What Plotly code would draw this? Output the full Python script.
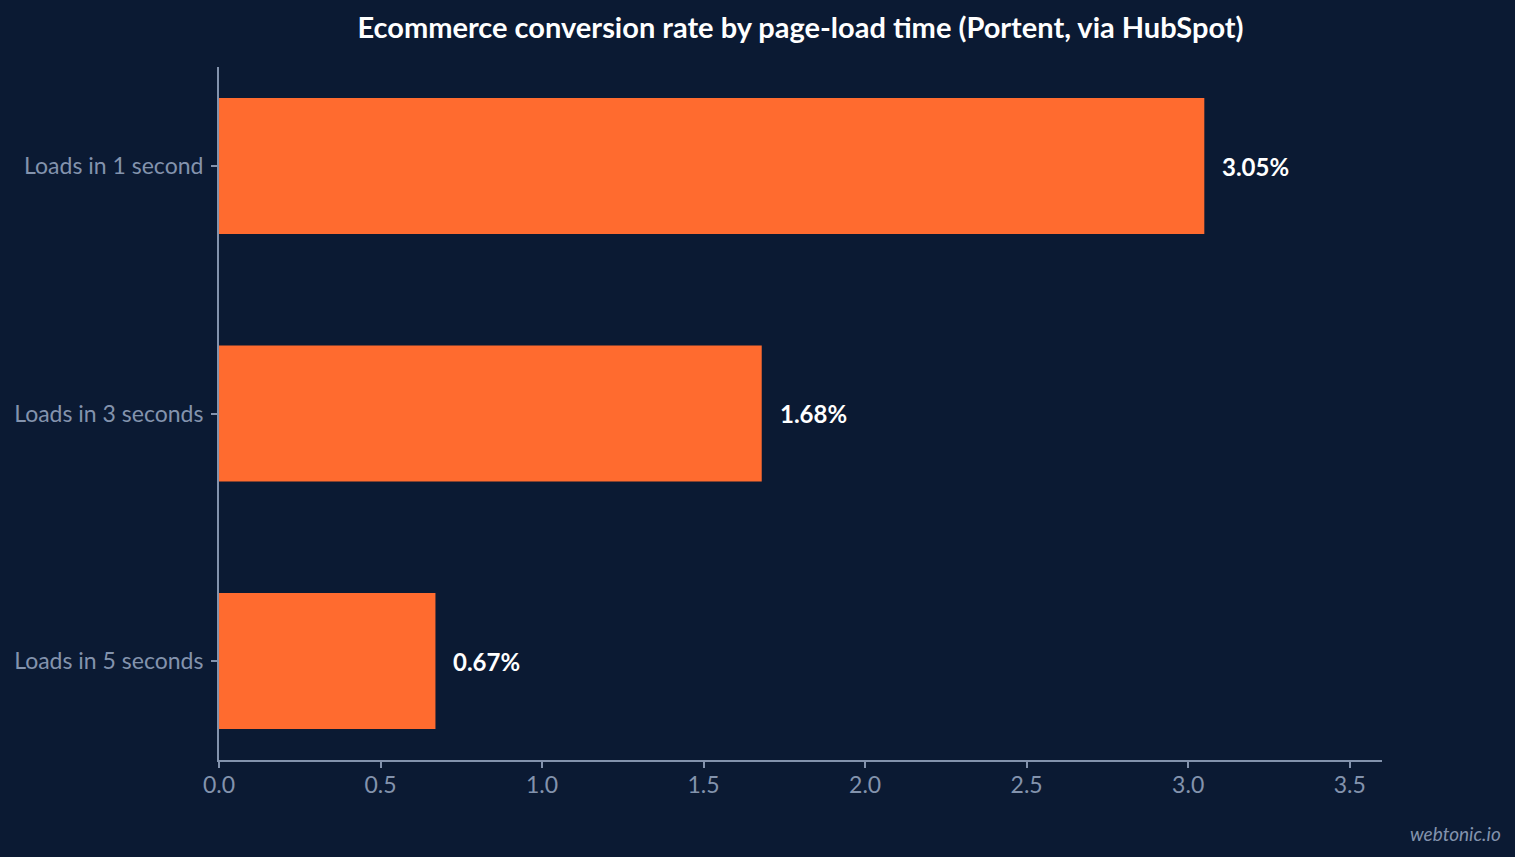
import plotly.graph_objects as go

categories = ["Loads in 1 second", "Loads in 3 seconds", "Loads in 5 seconds"]
rates = [3.05, 1.68, 0.67]
labels = ["3.05%", "1.68%", "0.67%"]
x_ticks = [0.0, 0.5, 1.0, 1.5, 2.0, 2.5, 3.0, 3.5]

bg = "#0b1a33"
axis_col = "#8393ad"
orange = "#ff6b2f"

fig = go.Figure(
    go.Bar(
        x=rates,
        y=categories,
        orientation="h",
        width=0.55,
        marker_color=orange,
        marker_line_width=0,
        hoverinfo="skip",
    )
)

for cat, val, lab in zip(categories, rates, labels):
    fig.add_annotation(
        x=val, y=cat, text="<b>" + lab + "</b>",
        xanchor="left", xshift=16, showarrow=False,
        font=dict(size=24, color="white", family="Lato"),
    )

fig.add_annotation(
    x=1, y=0, xref="paper", yref="paper", text="<i>webtonic.io</i>",
    xanchor="right", yanchor="middle", xshift=121, yshift=-73,
    showarrow=False, font=dict(size=19, color=axis_col, family="Lato"),
)

fig.update_layout(
    width=1515, height=857,
    paper_bgcolor=bg, plot_bgcolor=bg,
    margin=dict(l=219, r=133, t=67, b=97),
    font=dict(family="Lato", color=axis_col, size=23),
    title=dict(
        text="<b>Ecommerce conversion rate by page-load time (Portent, via HubSpot)</b>",
        x=0.5, xref="paper", xanchor="center", y=0.967, yanchor="middle",
        font=dict(size=29, color="white", family="Lato"),
    ),
    showlegend=False,
)

fig.update_xaxes(
    range=[0, 3.6], tickvals=x_ticks, tickformat=".1f",
    showgrid=False, zeroline=False,
    showline=True, linecolor=axis_col, linewidth=2,
    ticks="outside", ticklen=6, tickcolor=axis_col, tickwidth=2,
    ticklabelstandoff=-3,
    tickfont=dict(size=23, color=axis_col),
)
fig.update_yaxes(
    categoryorder="array", categoryarray=categories,
    range=[2.4, -0.4],
    showgrid=False, zeroline=False,
    showline=True, linecolor=axis_col, linewidth=2,
    ticks="outside", ticklen=6, tickcolor=axis_col, tickwidth=2,
    ticklabelstandoff=3,
    tickfont=dict(size=23, color=axis_col),
)

fig.write_html("out.html", config={"displayModeBar": False},
               post_script="document.body.style.margin='0';")
